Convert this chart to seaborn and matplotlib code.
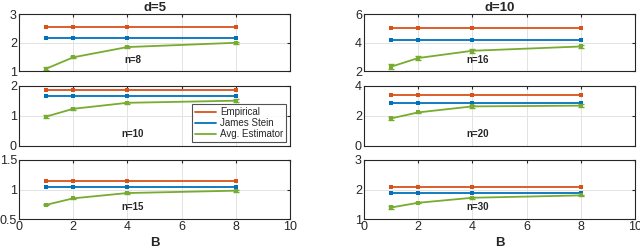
import numpy as np
import pandas as pd
import seaborn as sns
import matplotlib
matplotlib.use("Agg")
import matplotlib.pyplot as plt
from matplotlib.lines import Line2D

sns.set_style("white")
plt.rcParams['font.family'] = ['Liberation Sans', 'DejaVu Sans']

B = [1, 2, 4, 8]
methods = ["Empirical", "James Stein", "Avg. Estimator"]
colors = {"Empirical": "#D95319", "James Stein": "#0072BD", "Avg. Estimator": "#77AC30"}

# d=5
emp_d5_n8 = [2.53, 2.53, 2.53, 2.53]
js_d5_n8 = [2.17, 2.17, 2.17, 2.17]
avg_d5_n8 = [1.08, 1.48, 1.84, 1.99]
err_d5_n8 = [0.05, 0.04, 0.03, 0.03]

emp_d5_n10 = [1.86, 1.86, 1.86, 1.86]
js_d5_n10 = [1.66, 1.66, 1.66, 1.66]
avg_d5_n10 = [0.98, 1.24, 1.44, 1.51]
err_d5_n10 = [0.05, 0.03, 0.03, 0.04]

emp_d5_n15 = [1.14, 1.14, 1.14, 1.14]
js_d5_n15 = [1.05, 1.05, 1.05, 1.05]
avg_d5_n15 = [0.74, 0.85, 0.94, 0.98]
err_d5_n15 = [0.01, 0.01, 0.01, 0.02]

# d=10
emp_d10_n16 = [5.05, 5.05, 5.05, 5.05]
js_d10_n16 = [4.17, 4.17, 4.17, 4.17]
avg_d10_n16 = [2.3, 2.91, 3.42, 3.72]
err_d10_n16 = [0.18, 0.12, 0.14, 0.1]

emp_d10_n20 = [3.38, 3.38, 3.38, 3.38]
js_d10_n20 = [2.9, 2.9, 2.9, 2.9]
avg_d10_n20 = [1.84, 2.24, 2.64, 2.69]
err_d10_n20 = [0.08, 0.04, 0.1, 0.08]

emp_d10_n30 = [2.08, 2.08, 2.08, 2.08]
js_d10_n30 = [1.89, 1.89, 1.89, 1.89]
avg_d10_n30 = [1.39, 1.55, 1.72, 1.8]
err_d10_n30 = [0.04, 0.02, 0.03, 0.03]

panels = [
    ("d=5", "n=8", emp_d5_n8, js_d5_n8, avg_d5_n8, err_d5_n8, (1, 3), [1, 2, 3], ["1", "2", "3"], (4.2, 1.38)),
    ("d=5", "n=10", emp_d5_n10, js_d5_n10, avg_d5_n10, err_d5_n10, (0, 2), [0, 1, 2], ["0", "1", "2"], (4.2, 0.4)),
    ("d=5", "n=15", emp_d5_n15, js_d5_n15, avg_d5_n15, err_d5_n15, (0.5, 1.5), [0.5, 1, 1.5], ["0.5", "1", "1.5"], (4.2, 0.7)),
    ("d=10", "n=16", emp_d10_n16, js_d10_n16, avg_d10_n16, err_d10_n16, (2, 6), [2, 4, 6], ["2", "4", "6"], (4.2, 2.75)),
    ("d=10", "n=20", emp_d10_n20, js_d10_n20, avg_d10_n20, err_d10_n20, (0, 4), [0, 2, 4], ["0", "2", "4"], (4.2, 0.8)),
    ("d=10", "n=30", emp_d10_n30, js_d10_n30, avg_d10_n30, err_d10_n30, (1, 3), [1, 2, 3], ["1", "2", "3"], (4.2, 1.4)),
]

W, H = 640, 248
fig = plt.figure(figsize=(W / 100, H / 100), dpi=100)

col_x = [19, 364]
ax_w = 271
rows = [(14, 71), (86, 146), (160, 219)]

for i, (dlab, nlab, emp, js, avg, err, ylim, yt, ytl, txt) in enumerate(panels):
    c, r = divmod(i, 3)
    top, bot = rows[r]
    ax = fig.add_axes([col_x[c] / W, 1 - bot / H, ax_w / W, (bot - top) / H])
    df = pd.DataFrame({
        "B": B * 3,
        "value": emp + js + avg,
        "method": [methods[0]] * 4 + [methods[1]] * 4 + [methods[2]] * 4,
    })
    sns.lineplot(data=df, x="B", y="value", hue="method", palette=colors, ax=ax,
                 marker="s", markersize=2.5, markeredgewidth=0, linewidth=1.3,
                 legend=False, errorbar=None)
    ax.errorbar(B, avg, yerr=err, fmt="none", ecolor=colors["Avg. Estimator"],
                elinewidth=1.0, capsize=2, capthick=1.0)
    ax.set_xlim(0, 10)
    ax.set_ylim(*ylim)
    ax.set_xticks([0, 2, 4, 6, 8, 10])
    ax.set_yticks(yt)
    ax.set_yticklabels(ytl)
    ax.grid(True, color="#e3e3e3", linewidth=0.7)
    ax.tick_params(axis="both", labelsize=9, length=2.5, direction="in",
                   colors="#262626", pad=1.5, top=True, right=True)
    for s in ax.spines.values():
        s.set_color("#262626")
        s.set_linewidth(0.8)
    ax.set_xlabel("")
    ax.set_ylabel("")
    if r < 2:
        ax.set_xticklabels([])
    else:
        ax.set_xlabel("B", fontsize=9.5, fontweight="bold", labelpad=3)
    if r == 0:
        ax.set_title(dlab, fontsize=9.5, fontweight="bold", pad=2)
    ax.text(txt[0], txt[1], nlab, fontsize=7, fontweight="bold", ha="center", va="center")
    if i == 1:
        handles = [Line2D([0], [0], color=colors[m], linewidth=1.3) for m in methods]
        leg = ax.legend(handles, methods, loc="lower right", fontsize=7,
                        frameon=True, fancybox=False, edgecolor="#262626",
                        handlelength=2.2, handletextpad=0.4, borderpad=0.3,
                        labelspacing=0.1, borderaxespad=0.4)
        leg.get_frame().set_linewidth(0.8)

fig.savefig("out.png", dpi=100)
